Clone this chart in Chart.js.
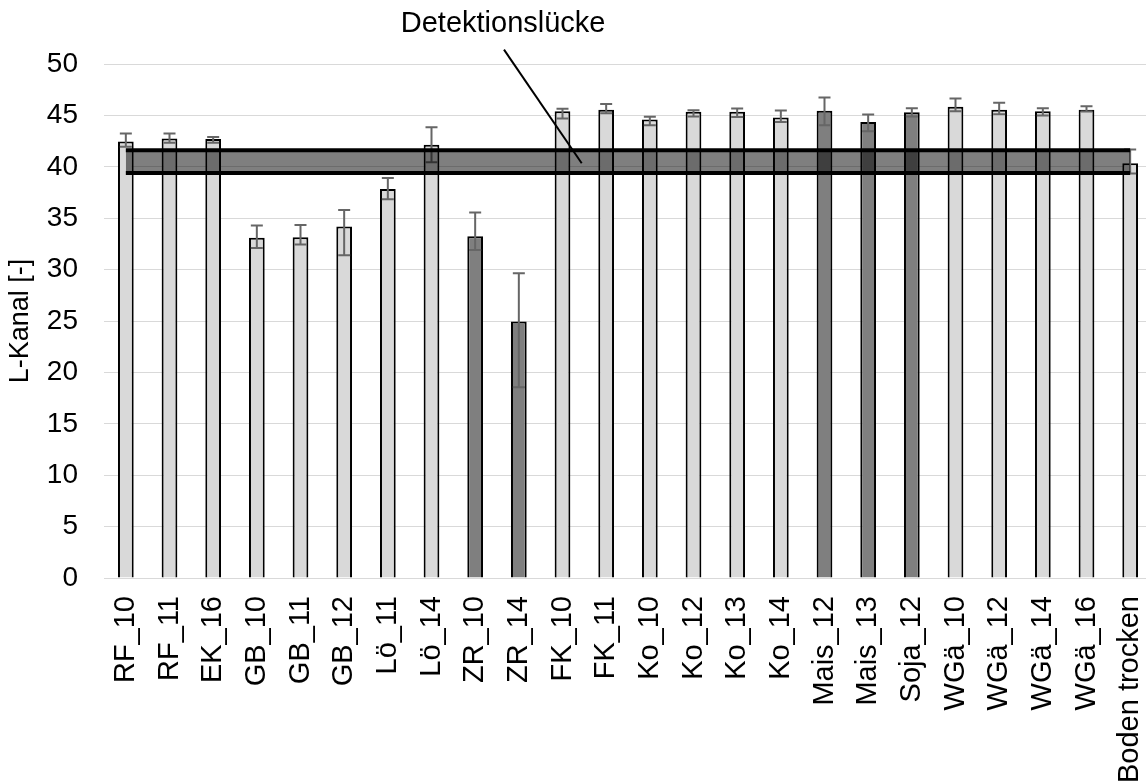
<!DOCTYPE html>
<html>
<head>
<meta charset="utf-8">
<script src="https://cdn.jsdelivr.net/npm/chart.js@4.4.1/dist/chart.umd.min.js"></script>
<style>
    html, body { margin: 0; padding: 0; background: #fff; overflow: hidden; }
    #wrap { width: 1152px; height: 783px; position: relative; }
</style>
</head>
<body>
<div id="wrap"><canvas id="lChart"></canvas></div>
<script>
// Samples (x axis)
const labels = ['RF_10', 'RF_11', 'EK_16', 'GB_10', 'GB_11', 'GB_12', 'Lö_11', 'Lö_14', 'ZR_10', 'ZR_14',
    'FK_10', 'FK_11', 'Ko_10', 'Ko_12', 'Ko_13', 'Ko_14', 'Mais_12', 'Mais_13', 'Soja_12',
    'WGä_10', 'WGä_12', 'WGä_14', 'WGä_16', 'Boden trocken'];

// Mean L-channel values
const lValues = [42.45, 42.75, 42.7, 33.1, 33.15, 34.2, 37.85, 42.15, 33.25, 24.95,
    45.4, 45.55, 44.6, 45.35, 45.35, 44.8, 45.45, 44.35, 45.3,
    45.85, 45.55, 45.4, 45.55, 40.35];

// Error bars (upper / lower)
const errPlus = [0.8, 0.5, 0.2, 1.2, 1.2, 1.6, 1.05, 1.7, 2.3, 4.7,
    0.25, 0.55, 0.27, 0.15, 0.32, 0.67, 1.3, 0.74, 0.4,
    0.8, 0.68, 0.3, 0.33, 1.33];
const errMinus = [0.5, 0.4, 0.35, 1.0, 0.7, 2.8, 1.0, 1.7, 1.35, 6.4,
    0.7, 0.35, 0.55, 0.45, 0.5, 0.43, 1.4, 0.9, 0.4,
    0.45, 0.45, 0.4, 0.16, 1.0];

// samples drawn in dark gray
const darkBars = ['ZR_10', 'ZR_14', 'Mais_12', 'Mais_13', 'Soja_12'];

// detection gap limits [lower, upper]
const gapLimits = [39.4, 41.6];
const gapLabel = 'Detektionslücke';

const FONT = "'Liberation Sans', Arial, sans-serif";

// error bars, drawn on top of the bars
const errorBarPlugin = {
    id: 'errorBars',
    afterDatasetDraw(chart, args) {
        if (args.index !== 2) return;
        const ctx = chart.ctx;
        const y = chart.scales.y;
        const meta = chart.getDatasetMeta(2);
        ctx.save();
        ctx.strokeStyle = '#666666';
        ctx.lineWidth = 2;
        meta.data.forEach((bar, i) => {
            const x = bar.x;
            const top = y.getPixelForValue(lValues[i] + errPlus[i]);
            const bot = y.getPixelForValue(lValues[i] - errMinus[i]);
            ctx.beginPath();
            ctx.moveTo(x, top); ctx.lineTo(x, bot);
            ctx.moveTo(x - 6, top); ctx.lineTo(x + 6, top);
            ctx.moveTo(x - 6, bot); ctx.lineTo(x + 6, bot);
            ctx.stroke();
        });
        ctx.restore();
    }
};

// label and pointer line for the detection gap
const gapLabelPlugin = {
    id: 'gapLabel',
    afterDraw(chart) {
        const ctx = chart.ctx;
        const xs = chart.scales.x, ys = chart.scales.y;
        const step = xs.getPixelForValue(1) - xs.getPixelForValue(0);
        const px = idx => xs.getPixelForValue(0) + idx * step;
        ctx.save();
        ctx.fillStyle = '#000';
        ctx.font = '29px ' + FONT;
        ctx.textAlign = 'center';
        ctx.textBaseline = 'middle';
        ctx.fillText(gapLabel, px(8.64), ys.getPixelForValue(53.9));
        ctx.strokeStyle = '#000';
        ctx.lineWidth = 2;
        ctx.beginPath();
        ctx.moveTo(px(8.66), ys.getPixelForValue(51.4));
        ctx.lineTo(px(10.44), ys.getPixelForValue(40.35));
        ctx.stroke();
        ctx.restore();
    }
};

document.addEventListener('DOMContentLoaded', () => {
    const ctx = document.getElementById('lChart').getContext('2d');

    new Chart(ctx, {
        data: {
            labels: labels,
            datasets: [
                {
                    type: 'line',
                    label: 'Obergrenze',
                    data: labels.map(() => gapLimits[1]),
                    borderColor: '#000',
                    borderWidth: 4,
                    pointRadius: 0,
                    fill: '+1',
                    backgroundColor: 'rgba(0, 0, 0, 0.5)'
                },
                {
                    type: 'line',
                    label: 'Untergrenze',
                    data: labels.map(() => gapLimits[0]),
                    borderColor: '#000',
                    borderWidth: 4,
                    pointRadius: 0,
                    fill: false
                },
                {
                    type: 'bar',
                    label: 'L-Kanal',
                    data: lValues,
                    backgroundColor: labels.map(l => darkBars.includes(l) ? '#7f7f7f' : '#d9d9d9'),
                    borderColor: '#000',
                    borderWidth: 2,
                    barPercentage: 0.36,
                    categoryPercentage: 1
                }
            ]
        },
        options: {
            responsive: true,
            maintainAspectRatio: false,
            animation: false,
            layout: { padding: { top: 64, right: 0, left: 0, bottom: 0 } },
            plugins: {
                legend: { display: false },
                tooltip: { enabled: false }
            },
            scales: {
                x: {
                    grid: { display: false, drawTicks: false },
                    border: { color: '#d9d9d9', width: 1 },
                    ticks: {
                        font: { family: FONT, size: 29 },
                        color: '#000',
                        minRotation: 90,
                        maxRotation: 90,
                        padding: 18,
                        autoSkip: false
                    },
                    afterFit(scale) {
                        scale.height = 205;
                        scale.paddingLeft = 0;
                        scale.paddingRight = 0;
                    }
                },
                y: {
                    min: 0,
                    max: 50,
                    grid: { color: '#d9d9d9', lineWidth: 1, drawTicks: false },
                    border: { display: false },
                    ticks: {
                        stepSize: 5,
                        font: { family: FONT, size: 28 },
                        color: '#000',
                        padding: 26
                    },
                    title: {
                        display: true,
                        text: 'L-Kanal [-]',
                        font: { family: FONT, size: 27 },
                        color: '#000',
                        padding: { top: 4, bottom: 0 }
                    },
                    afterFit(scale) { scale.width = 104; }
                }
            }
        },
        plugins: [errorBarPlugin, gapLabelPlugin]
    });
});
</script>
</body>
</html>
